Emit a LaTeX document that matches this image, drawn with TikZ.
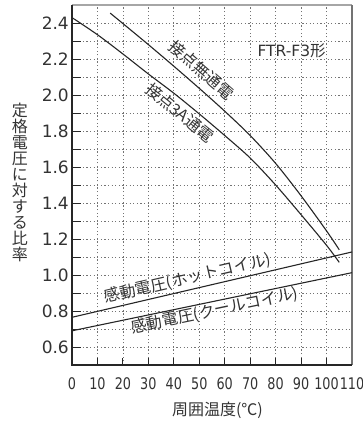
\documentclass[tikz,border=0pt]{standalone}
\usepackage{fontspec}
\setmainfont{DejaVu Sans}
\newfontfamily\cjk{Noto Sans CJK JP}
\newfontfamily\narrowfont[FakeStretch=0.8]{DejaVu Sans}
\begin{document}
\begin{tikzpicture}[x=1pt,y=-1pt,
  gridline/.style={black!55, line width=0.8pt, dash pattern=on 1.2pt off 2.4pt},
  curve/.style={black!85, line width=1.1pt},
  tickmark/.style={black!85, line width=1pt},
  lbl/.style={inner sep=0pt, font=\cjk\fontsize{16}{16}\selectfont, text=black!80},
  ylab/.style={inner sep=0pt, font=\fontsize{17}{17}\selectfont, text=black!80, anchor=east},
  xlab/.style={inner sep=0pt, font=\narrowfont\fontsize{16}{16}\selectfont, text=black!80, anchor=base},
  ]
\useasboundingbox (0,0) rectangle (363,424);
\fill[white] (0,0) rectangle (363,424);

\begin{scope}[x=2.545454pt, y=180pt, shift={(72pt,-455pt)}]
  % grid
  \foreach \i in {6,...,24} \draw[gridline] (0,{\i/10}) -- (110,{\i/10});
  \foreach \t in {10,20,...,100} \draw[gridline] (\t,0.5) -- (\t,2.5);
  % ticks
  \foreach \i in {6,...,24} \draw[tickmark] (0,{\i/10}) -- ++(9pt,0);
  \foreach \t in {10,20,...,100} \draw[tickmark] (\t,0.5) -- ++(0,7pt);
  % frame
  \draw[black!35, line width=1.3pt] (0,2.5) -- (110,2.5);
  \draw[black!55, line width=1.7pt] (110,2.5) -- (110,0.5);
  \draw[black!85, line width=1.4pt] (0,2.5) -- (0,0.5) -- (110,0.5);
  % tick labels
  \foreach \v [count=\k] in {0.6,0.8,1.0,1.2,1.4,1.6,1.8,2.0,2.2,2.4}
    \node[ylab] (ylab\k) at (-1.18,\v) {\v};
  \foreach \t in {0,10,...,110}
    \node[xlab] (xlab\t) at (\t,0.365) {\t};
  % curves
  \draw[curve] plot[smooth, tension=0.5] coordinates {(15,2.455) (20,2.397) (30,2.28) (40,2.16) (50,2.037) (60,1.91) (70,1.775) (80,1.62) (90,1.44) (100,1.245) (105,1.14)};
  \draw[curve] plot[smooth, tension=0.5] coordinates {(0,2.43) (10,2.335) (20,2.228) (30,2.117) (40,2.01) (50,1.895) (60,1.775) (70,1.65) (80,1.50) (90,1.335) (100,1.165) (105,1.07)};
  \draw[curve] (0,0.765) -- (110,1.128);
  \draw[curve] (0,0.69) -- (110,1.013);
\end{scope}

% curve labels
\node[lbl, rotate=-41] (lnone) at (201.5,70) {接点無通電};
\node[lbl, rotate=-39] (l3a) at (180,112.5) {接点3A通電};
\node[lbl, rotate=13.1] (lhot) at (187.5,278.5) {感動電圧(ホットコイル)};
\node[lbl, rotate=11.8] (lcool) at (214.5,310.8) {感動電圧(クールコイル)};
% model
\node[inner sep=0pt, anchor=base west, font=\fontsize{15.5}{15.5}\selectfont, text=black!80] (model) at (257.3,56.7) {FTR-F3{\cjk 形}};
% axis titles
\node[lbl, align=center] (ytitle) at (20,182.3) {定\\格\\電\\圧\\に\\対\\す\\る\\比\\率};
\node[lbl] (xtitle) at (217.5,410.8) {周囲温度(℃)};
\end{tikzpicture}
\end{document}
